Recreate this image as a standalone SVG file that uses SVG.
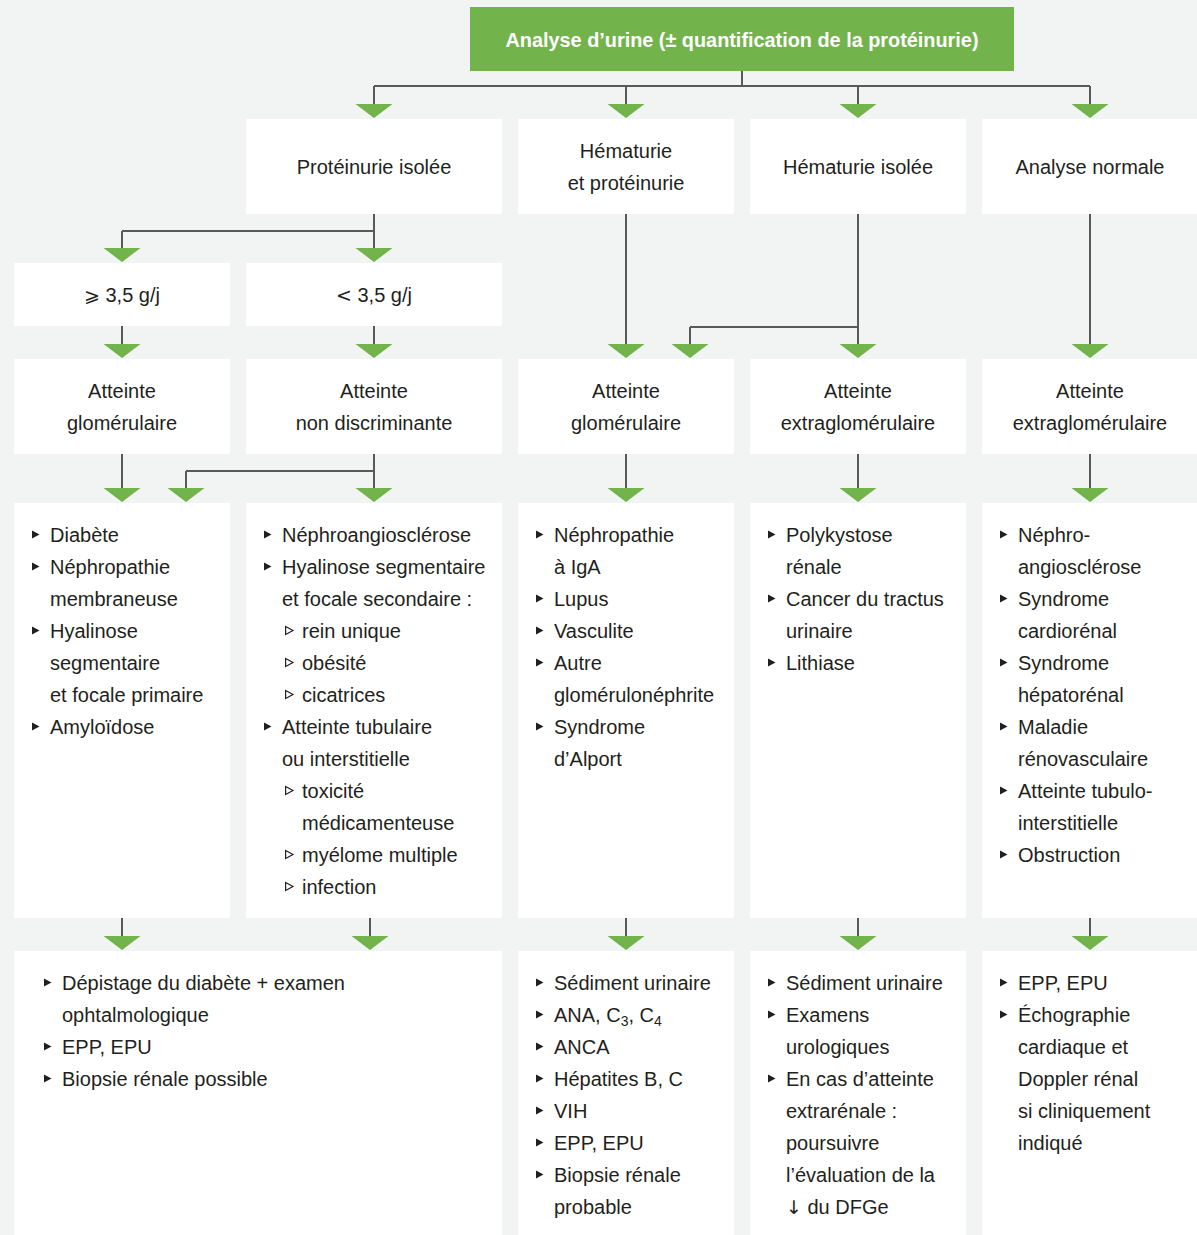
<svg xmlns="http://www.w3.org/2000/svg" xmlns:xlink="http://www.w3.org/1999/xlink" width="1197" height="1235" viewBox="0 0 1197 1235">
<style>
.bg{fill:#f2f4f3}
.box{fill:#ffffff}
.hdr{fill:#72b34b}
text{font-family:"Liberation Sans","DejaVu Sans",Arial,sans-serif;font-size:20px;fill:#231f20}
.c{text-anchor:middle}
.ht{fill:#ffffff;font-weight:bold;font-size:21px}
.ln{stroke:#595959;stroke-width:2;fill:none}
.ar{fill:#72b34b}
.bl{fill:#231f20}
.sb{fill:none;stroke:#231f20;stroke-width:1.2}
.sub{font-size:14px}
.dv{font-family:"DejaVu Sans",sans-serif;font-size:19px}
</style>
<defs>
<polygon id="arr" points="-18.5,-14 18.5,-14 0,0"/>
<polygon id="b" points="0,-11.5 7.5,-7.5 0,-3.5"/>
<polygon id="s" points="0.6,-11.5 8,-7.5 0.6,-3.5"/>
</defs>
<rect class="bg" x="0" y="0" width="1197" height="1235"/>

<g id="connectors">
<path class="ln" d="M742,71V86M374,86H1090M374,86V104M626,86V104M858,86V104M1090,86V104"/>
<path class="ln" d="M374,214V248M122,231H374M122,231V248"/>
<path class="ln" d="M122,326V344M374,326V344"/>
<path class="ln" d="M626,214V344M858,214V344M690,327H858M690,327V344M1090,214V344"/>
<path class="ln" d="M122,454V488M374,454V488M186,471H374M186,471V488M626,454V488M858,454V488M1090,454V488"/>
<path class="ln" d="M122,918V936M370,918V936M626,918V936M858,918V936M1090,918V936"/>
<g class="ar">
<use href="#arr" x="374" y="118"/><use href="#arr" x="626" y="118"/><use href="#arr" x="858" y="118"/><use href="#arr" x="1090" y="118"/>
<use href="#arr" x="122" y="262"/><use href="#arr" x="374" y="262"/>
<use href="#arr" x="122" y="358"/><use href="#arr" x="374" y="358"/><use href="#arr" x="626" y="358"/><use href="#arr" x="690" y="358"/><use href="#arr" x="858" y="358"/><use href="#arr" x="1090" y="358"/>
<use href="#arr" x="122" y="502"/><use href="#arr" x="186" y="502"/><use href="#arr" x="374" y="502"/><use href="#arr" x="626" y="502"/><use href="#arr" x="858" y="502"/><use href="#arr" x="1090" y="502"/>
<use href="#arr" x="122" y="950"/><use href="#arr" x="370" y="950"/><use href="#arr" x="626" y="950"/><use href="#arr" x="858" y="950"/><use href="#arr" x="1090" y="950"/>
</g>
</g>

<g id="n-header">
<rect class="hdr" x="470" y="7" width="544" height="64"/>
<text class="c ht" x="742" y="47" textLength="473" lengthAdjust="spacingAndGlyphs">Analyse d’urine (± quantification de la protéinurie)</text>
</g>

<g id="n-proteinurie">
<rect class="box" x="246" y="119" width="256" height="95"/>
<text class="c" x="374" y="174">Protéinurie isolée</text>
</g>
<g id="n-hemat-prot">
<rect class="box" x="518" y="119" width="216" height="95"/>
<text class="c" x="626" y="158">Hématurie</text>
<text class="c" x="626" y="190">et protéinurie</text>
</g>
<g id="n-hemat">
<rect class="box" x="750" y="119" width="216" height="95"/>
<text class="c" x="858" y="174">Hématurie isolée</text>
</g>
<g id="n-normale">
<rect class="box" x="982" y="119" width="215" height="95"/>
<text class="c" x="1090" y="174">Analyse normale</text>
</g>

<g id="n-ge35">
<rect class="box" x="14" y="263" width="216" height="63"/>
<text class="c" x="122" y="302"><tspan class="dv">⩾</tspan> 3,5 g/j</text>
</g>
<g id="n-lt35">
<rect class="box" x="246" y="263" width="256" height="63"/>
<text class="c" x="374" y="302"><tspan class="dv">&lt;</tspan> 3,5 g/j</text>
</g>

<g id="n-att-glom1">
<rect class="box" x="14" y="359" width="216" height="95"/>
<text class="c" x="122" y="398">Atteinte</text>
<text class="c" x="122" y="430">glomérulaire</text>
</g>
<g id="n-att-nondisc">
<rect class="box" x="246" y="359" width="256" height="95"/>
<text class="c" x="374" y="398">Atteinte</text>
<text class="c" x="374" y="430">non discriminante</text>
</g>
<g id="n-att-glom2">
<rect class="box" x="518" y="359" width="216" height="95"/>
<text class="c" x="626" y="398">Atteinte</text>
<text class="c" x="626" y="430">glomérulaire</text>
</g>
<g id="n-att-extra1">
<rect class="box" x="750" y="359" width="216" height="95"/>
<text class="c" x="858" y="398">Atteinte</text>
<text class="c" x="858" y="430">extraglomérulaire</text>
</g>
<g id="n-att-extra2">
<rect class="box" x="982" y="359" width="215" height="95"/>
<text class="c" x="1090" y="398">Atteinte</text>
<text class="c" x="1090" y="430">extraglomérulaire</text>
</g>

<g id="n-list-glom1">
<rect class="box" x="14" y="503" width="216" height="415"/>
<g class="bl"><use href="#b" x="32" y="542"/><use href="#b" x="32" y="574"/><use href="#b" x="32" y="638"/><use href="#b" x="32" y="734"/></g>
<text x="50" y="542">Diabète</text>
<text x="50" y="574">Néphropathie</text>
<text x="50" y="606">membraneuse</text>
<text x="50" y="638">Hyalinose</text>
<text x="50" y="670">segmentaire</text>
<text x="50" y="702">et focale primaire</text>
<text x="50" y="734">Amyloïdose</text>
</g>

<g id="n-list-nondisc">
<rect class="box" x="246" y="503" width="256" height="415"/>
<g class="bl"><use href="#b" x="264" y="542"/><use href="#b" x="264" y="574"/><use href="#b" x="264" y="734"/></g>
<g class="sb"><use href="#s" x="285" y="638"/><use href="#s" x="285" y="670"/><use href="#s" x="285" y="702"/><use href="#s" x="285" y="798"/><use href="#s" x="285" y="862"/><use href="#s" x="285" y="894"/></g>
<text x="282" y="542">Néphroangiosclérose</text>
<text x="282" y="574">Hyalinose segmentaire</text>
<text x="282" y="606">et focale secondaire :</text>
<text x="302" y="638">rein unique</text>
<text x="302" y="670">obésité</text>
<text x="302" y="702">cicatrices</text>
<text x="282" y="734">Atteinte tubulaire</text>
<text x="282" y="766">ou interstitielle</text>
<text x="302" y="798">toxicité</text>
<text x="302" y="830">médicamenteuse</text>
<text x="302" y="862">myélome multiple</text>
<text x="302" y="894">infection</text>
</g>

<g id="n-list-glom2">
<rect class="box" x="518" y="503" width="216" height="415"/>
<g class="bl"><use href="#b" x="536" y="542"/><use href="#b" x="536" y="606"/><use href="#b" x="536" y="638"/><use href="#b" x="536" y="670"/><use href="#b" x="536" y="734"/></g>
<text x="554" y="542">Néphropathie</text>
<text x="554" y="574">à IgA</text>
<text x="554" y="606">Lupus</text>
<text x="554" y="638">Vasculite</text>
<text x="554" y="670">Autre</text>
<text x="554" y="702">glomérulonéphrite</text>
<text x="554" y="734">Syndrome</text>
<text x="554" y="766">d’Alport</text>
</g>

<g id="n-list-extra1">
<rect class="box" x="750" y="503" width="216" height="415"/>
<g class="bl"><use href="#b" x="768" y="542"/><use href="#b" x="768" y="606"/><use href="#b" x="768" y="670"/></g>
<text x="786" y="542">Polykystose</text>
<text x="786" y="574">rénale</text>
<text x="786" y="606">Cancer du tractus</text>
<text x="786" y="638">urinaire</text>
<text x="786" y="670">Lithiase</text>
</g>

<g id="n-list-extra2">
<rect class="box" x="982" y="503" width="215" height="415"/>
<g class="bl"><use href="#b" x="1000" y="542"/><use href="#b" x="1000" y="606"/><use href="#b" x="1000" y="670"/><use href="#b" x="1000" y="734"/><use href="#b" x="1000" y="798"/><use href="#b" x="1000" y="862"/></g>
<text x="1018" y="542">Néphro-</text>
<text x="1018" y="574">angiosclérose</text>
<text x="1018" y="606">Syndrome</text>
<text x="1018" y="638">cardiorénal</text>
<text x="1018" y="670">Syndrome</text>
<text x="1018" y="702">hépatorénal</text>
<text x="1018" y="734">Maladie</text>
<text x="1018" y="766">rénovasculaire</text>
<text x="1018" y="798">Atteinte tubulo-</text>
<text x="1018" y="830">interstitielle</text>
<text x="1018" y="862">Obstruction</text>
</g>

<g id="n-exam-1">
<rect class="box" x="14" y="951" width="488" height="284"/>
<g class="bl"><use href="#b" x="44" y="990"/><use href="#b" x="44" y="1054"/><use href="#b" x="44" y="1086"/></g>
<text x="62" y="990">Dépistage du diabète + examen</text>
<text x="62" y="1022">ophtalmologique</text>
<text x="62" y="1054">EPP, EPU</text>
<text x="62" y="1086">Biopsie rénale possible</text>
</g>

<g id="n-exam-2">
<rect class="box" x="518" y="951" width="216" height="284"/>
<g class="bl"><use href="#b" x="536" y="990"/><use href="#b" x="536" y="1022"/><use href="#b" x="536" y="1054"/><use href="#b" x="536" y="1086"/><use href="#b" x="536" y="1118"/><use href="#b" x="536" y="1150"/><use href="#b" x="536" y="1182"/></g>
<text x="554" y="990">Sédiment urinaire</text>
<text x="554" y="1022">ANA, C<tspan class="sub" dy="4">3</tspan><tspan dy="-4">, C</tspan><tspan class="sub" dy="4">4</tspan></text>
<text x="554" y="1054">ANCA</text>
<text x="554" y="1086">Hépatites B, C</text>
<text x="554" y="1118">VIH</text>
<text x="554" y="1150">EPP, EPU</text>
<text x="554" y="1182">Biopsie rénale</text>
<text x="554" y="1214">probable</text>
</g>

<g id="n-exam-3">
<rect class="box" x="750" y="951" width="216" height="284"/>
<g class="bl"><use href="#b" x="768" y="990"/><use href="#b" x="768" y="1022"/><use href="#b" x="768" y="1086"/></g>
<text x="786" y="990">Sédiment urinaire</text>
<text x="786" y="1022">Examens</text>
<text x="786" y="1054">urologiques</text>
<text x="786" y="1086">En cas d’atteinte</text>
<text x="786" y="1118">extrarénale :</text>
<text x="786" y="1150">poursuivre</text>
<text x="786" y="1182">l’évaluation de la</text>
<text x="786" y="1214"><tspan class="dv">↓</tspan> du DFGe</text>
</g>

<g id="n-exam-4">
<rect class="box" x="982" y="951" width="215" height="284"/>
<g class="bl"><use href="#b" x="1000" y="990"/><use href="#b" x="1000" y="1022"/></g>
<text x="1018" y="990">EPP, EPU</text>
<text x="1018" y="1022">Échographie</text>
<text x="1018" y="1054">cardiaque et</text>
<text x="1018" y="1086">Doppler rénal</text>
<text x="1018" y="1118">si cliniquement</text>
<text x="1018" y="1150">indiqué</text>
</g>
</svg>
